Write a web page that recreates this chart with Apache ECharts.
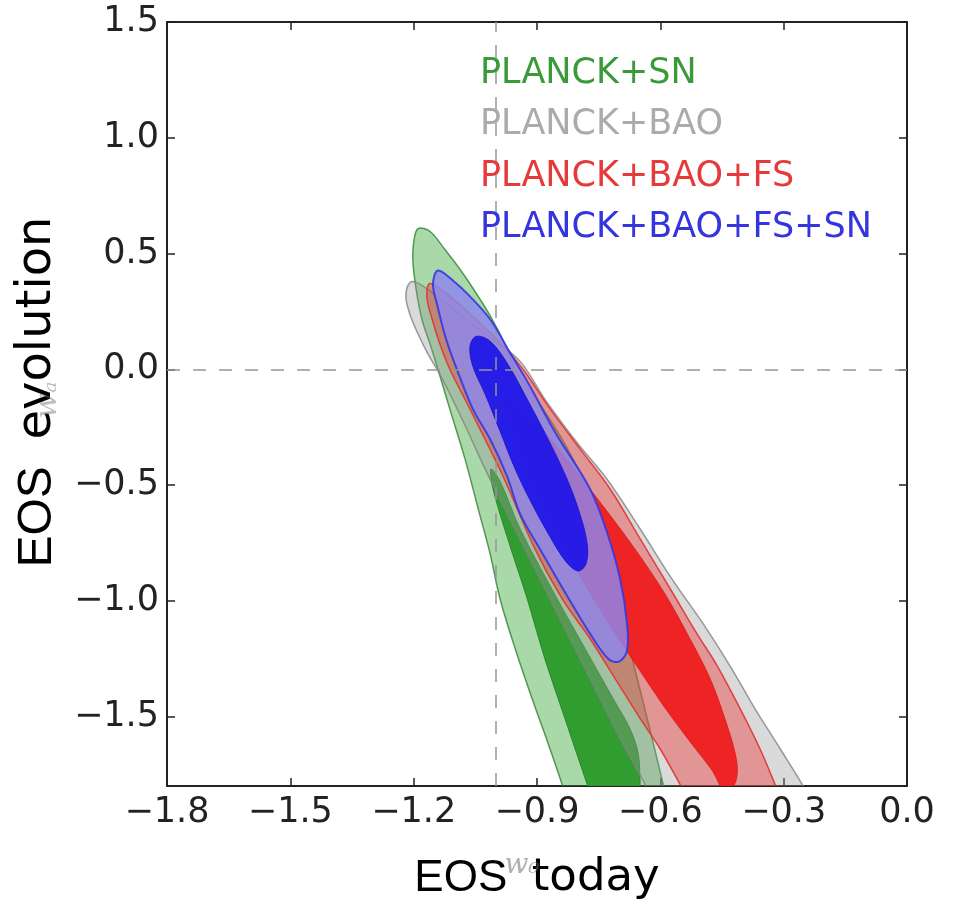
<!DOCTYPE html>
<html><head><meta charset="utf-8">
<script src="https://cdn.jsdelivr.net/npm/echarts@6/dist/echarts.min.js"></script>
<style>html,body{margin:0;padding:0;background:#fff}#chart{width:957px;height:914px}</style>
</head><body><div id="chart"></div>
<script>
// ---- axis ticks ----
const xTicks = [-1.8, -1.5, -1.2, -0.9, -0.6, -0.3, 0.0];
const yTicks = [-1.5, -1.0, -0.5, 0.0, 0.5, 1.0, 1.5];
const xRange = [-1.8, 0.0];
const yRange = [-1.8, 1.5];
const refX = -1.0;
const refY = 0.0;
const legendLabels = ['PLANCK+SN', 'PLANCK+BAO', 'PLANCK+BAO+FS', 'PLANCK+BAO+FS+SN'];

// ---- contour outlines [w0, wa] ----
const planckSN_2s = [[-1.189,0.608],[-1.160,0.595],[-1.124,0.517],[-1.087,0.431],[-1.046,0.323],[-1.009,0.216],[-0.978,0.108],[-0.953,0.000],[-0.893,-0.151],[-0.832,-0.323],[-0.783,-0.496],[-0.747,-0.668],[-0.718,-0.841],[-0.693,-1.034],[-0.674,-1.207],[-0.647,-1.401],[-0.620,-1.595],[-0.593,-1.793],[-0.581,-1.879],[-0.825,-1.879],[-0.839,-1.793],[-0.873,-1.616],[-0.912,-1.422],[-0.953,-1.207],[-0.990,-0.991],[-1.014,-0.797],[-1.043,-0.603],[-1.075,-0.388],[-1.112,-0.172],[-1.141,0.000],[-1.160,0.108],[-1.180,0.216],[-1.194,0.345],[-1.202,0.474],[-1.199,0.560]];
const planckSN_1s = [[-1.012,-0.431],[-0.990,-0.483],[-0.941,-0.690],[-0.851,-0.991],[-0.783,-1.207],[-0.715,-1.422],[-0.674,-1.552],[-0.654,-1.659],[-0.649,-1.793],[-0.647,-1.879],[-0.761,-1.879],[-0.778,-1.793],[-0.832,-1.509],[-0.881,-1.250],[-0.924,-0.991],[-0.971,-0.733],[-1.007,-0.517]];
const planckBAO_2s = [[-1.209,0.375],[-1.189,0.371],[-1.148,0.323],[-1.087,0.237],[-1.014,0.138],[-0.941,0.034],[-0.881,-0.129],[-0.800,-0.323],[-0.730,-0.474],[-0.649,-0.690],[-0.572,-0.905],[-0.496,-1.099],[-0.431,-1.280],[-0.370,-1.466],[-0.309,-1.638],[-0.255,-1.793],[-0.231,-1.879],[-0.613,-1.879],[-0.637,-1.793],[-0.698,-1.595],[-0.771,-1.336],[-0.844,-1.078],[-0.905,-0.862],[-0.966,-0.647],[-1.026,-0.431],[-1.082,-0.216],[-1.136,-0.022],[-1.165,0.065],[-1.189,0.151],[-1.209,0.237],[-1.219,0.315]];
const planckBAOFS_2s = [[-1.160,0.371],[-1.112,0.315],[-1.056,0.228],[-0.990,0.116],[-0.934,0.000],[-0.873,-0.159],[-0.795,-0.345],[-0.722,-0.517],[-0.649,-0.733],[-0.576,-0.948],[-0.511,-1.142],[-0.462,-1.280],[-0.406,-1.466],[-0.358,-1.638],[-0.321,-1.793],[-0.302,-1.879],[-0.525,-1.879],[-0.552,-1.793],[-0.601,-1.638],[-0.649,-1.509],[-0.710,-1.336],[-0.771,-1.164],[-0.839,-0.991],[-0.905,-0.776],[-0.983,-0.461],[-1.063,-0.172],[-1.112,0.000],[-1.136,0.108],[-1.155,0.216],[-1.168,0.315]];
const planckBAOFS_1s = [[-0.978,-0.129],[-0.961,-0.134],[-0.905,-0.224],[-0.844,-0.353],[-0.747,-0.573],[-0.662,-0.776],[-0.589,-0.970],[-0.528,-1.164],[-0.479,-1.336],[-0.443,-1.509],[-0.418,-1.659],[-0.413,-1.746],[-0.423,-1.802],[-0.445,-1.819],[-0.474,-1.733],[-0.528,-1.608],[-0.584,-1.474],[-0.637,-1.336],[-0.693,-1.185],[-0.752,-1.022],[-0.808,-0.853],[-0.861,-0.677],[-0.910,-0.496],[-0.949,-0.315],[-0.973,-0.181]];
const planckBAOFSSN_2s = [[-1.141,0.427],[-1.099,0.375],[-1.063,0.315],[-1.014,0.216],[-0.966,0.073],[-0.917,-0.073],[-0.856,-0.272],[-0.771,-0.517],[-0.730,-0.703],[-0.698,-0.905],[-0.681,-1.099],[-0.681,-1.216],[-0.701,-1.263],[-0.727,-1.250],[-0.771,-1.142],[-0.827,-0.978],[-0.893,-0.776],[-0.941,-0.625],[-0.973,-0.461],[-1.014,-0.302],[-1.056,-0.172],[-1.095,0.000],[-1.121,0.129],[-1.143,0.280],[-1.153,0.366]];
const planckBAOFSSN_1s = [[-1.048,0.142],[-1.014,0.121],[-0.971,0.022],[-0.924,-0.129],[-0.873,-0.302],[-0.829,-0.466],[-0.798,-0.612],[-0.778,-0.754],[-0.781,-0.841],[-0.800,-0.871],[-0.829,-0.832],[-0.868,-0.724],[-0.912,-0.582],[-0.953,-0.431],[-0.990,-0.267],[-1.026,-0.108],[-1.056,0.013],[-1.063,0.099]];

const layers = [
  {name: legendLabels[0], pts: planckSN_2s, fill: 'rgba(40,160,40,0.40)', stroke: 'rgba(50,130,50,0.8)', lw: 1.5},
  {name: legendLabels[0], pts: planckSN_1s, fill: 'rgba(45,155,45,0.97)', stroke: 'rgba(40,130,40,0.9)', lw: 1},
  {name: legendLabels[1], pts: planckBAO_2s, fill: 'rgba(150,150,150,0.35)', stroke: 'rgba(130,130,130,0.8)', lw: 1.5},
  {name: legendLabels[2], pts: planckBAOFS_2s, fill: 'rgba(235,45,45,0.40)', stroke: 'rgba(225,50,50,0.9)', lw: 1.5},
  {name: legendLabels[2], pts: planckBAOFS_1s, fill: 'rgba(238,30,30,0.95)', stroke: 'rgba(220,30,30,0.9)', lw: 1},
  {name: legendLabels[3], pts: planckBAOFSSN_2s, fill: 'rgba(140,135,238,0.82)', stroke: 'rgba(55,55,225,0.9)', lw: 2},
  {name: legendLabels[3], pts: planckBAOFSSN_1s, fill: 'rgba(25,18,232,0.9)', stroke: 'rgba(30,20,200,0.9)', lw: 1}
];
const legendColors = ['#3a9a3a', '#ababab', '#e63a3a', '#3535dd'];

const fmt = v => (v < 0 ? '\u2212' : '') + Math.abs(v).toFixed(1);
const axisCol = '#222';

const chart = echarts.init(document.getElementById('chart'), null, {renderer: 'canvas'});

const series = layers.map(L => ({
  type: 'custom',
  name: L.name,
  clip: true,
  xAxisIndex: 0, yAxisIndex: 0,
  data: L.pts,
  encode: {x: 0, y: 1},
  renderItem: function (params, api) {
    if (params.dataIndex !== 0) return null;
    const p = L.pts.map(d => api.coord(d));
    return {
      type: 'polygon',
      shape: {points: p, smooth: 0.35},
      style: {fill: L.fill, stroke: L.stroke, lineWidth: L.lw}
    };
  }
}));
series.push({
  type: 'line', name: 'ref', data: [], z: 5,
  xAxisIndex: 0, yAxisIndex: 0,
  markLine: {
    silent: true, symbol: 'none', label: {show: false},
    lineStyle: {type: [13, 13], color: 'rgba(150,150,150,0.75)', width: 2},
    data: [{xAxis: refX}, {yAxis: refY}]
  }
});

const baseX = {
  type: 'value', min: xRange[0], max: xRange[1],
  splitLine: {show: false},
  axisLine: {show: true, onZero: false, lineStyle: {color: axisCol, width: 2}},
  axisTick: {show: true, inside: true, length: 8, customValues: xTicks, lineStyle: {color: axisCol, width: 1.5}}
};
const baseY = {
  type: 'value', min: yRange[0], max: yRange[1],
  splitLine: {show: false},
  axisLine: {show: true, onZero: false, lineStyle: {color: axisCol, width: 2}},
  axisTick: {show: true, inside: true, length: 8, customValues: yTicks, lineStyle: {color: axisCol, width: 1.5}}
};

chart.setOption({
  backgroundColor: '#fff',
  animation: false,
  grid: {left: 167, right: 50, top: 22, bottom: 128, containLabel: false},
  xAxis: [
    Object.assign({}, baseX, {
      position: 'bottom',
      axisLabel: {customValues: xTicks, formatter: fmt, fontSize: 35, color: '#222', margin: 9, fontFamily: 'DejaVu Sans', showMinLabel: true, showMaxLabel: true},
      name: '{a|EOS  }{b|today}', nameLocation: 'middle', nameGap: 70,
      nameTextStyle: {color: '#000', rich: {
        a: {fontSize: 44, fontFamily: 'Liberation Sans', color: '#000'},
        b: {fontSize: 45, fontFamily: 'DejaVu Sans', color: '#000'}
      }}
    }),
    Object.assign({}, baseX, {position: 'top', axisLabel: {show: false}})
  ],
  yAxis: [
    Object.assign({}, baseY, {
      position: 'left',
      axisLabel: {customValues: yTicks, formatter: fmt, fontSize: 35, color: '#222', margin: 8, fontFamily: 'DejaVu Sans', showMinLabel: true, showMaxLabel: true},
      name: '{a|EOS  }{b|evolution}', nameLocation: 'middle', nameGap: 105, nameRotate: 90,
      nameTextStyle: {color: '#000', padding: [0, 0, 0, 24], rich: {
        a: {fontSize: 48, fontFamily: 'Liberation Sans', color: '#000'},
        b: {fontSize: 48, fontFamily: 'DejaVu Sans', color: '#000'}
      }}
    }),
    Object.assign({}, baseY, {position: 'right', axisLabel: {show: false}})
  ],
  graphic: [
    ...legendLabels.map((t, i) => ({
      type: 'text', x: 480, y: 74 + i * 51.3, z: 100,
      style: {text: t, fill: legendColors[i], fontSize: 35, fontFamily: 'DejaVu Sans', verticalAlign: 'middle', align: 'left'}
    })),
    {type: 'text', x: 522, y: 866, z: 100,
     style: {text: 'w\u2080', fill: 'rgba(110,110,110,0.55)', fontSize: 28, fontStyle: 'italic', fontFamily: 'DejaVu Serif', align: 'center', verticalAlign: 'middle'}},
    {type: 'text', x: 48, y: 400, z: 100, rotation: Math.PI / 2,
     style: {text: 'w\u2090', fill: 'rgba(110,110,110,0.45)', fontSize: 30, fontStyle: 'italic', fontFamily: 'DejaVu Serif', align: 'center', verticalAlign: 'middle'}}
  ],
  series: series
});
</script></body></html>
